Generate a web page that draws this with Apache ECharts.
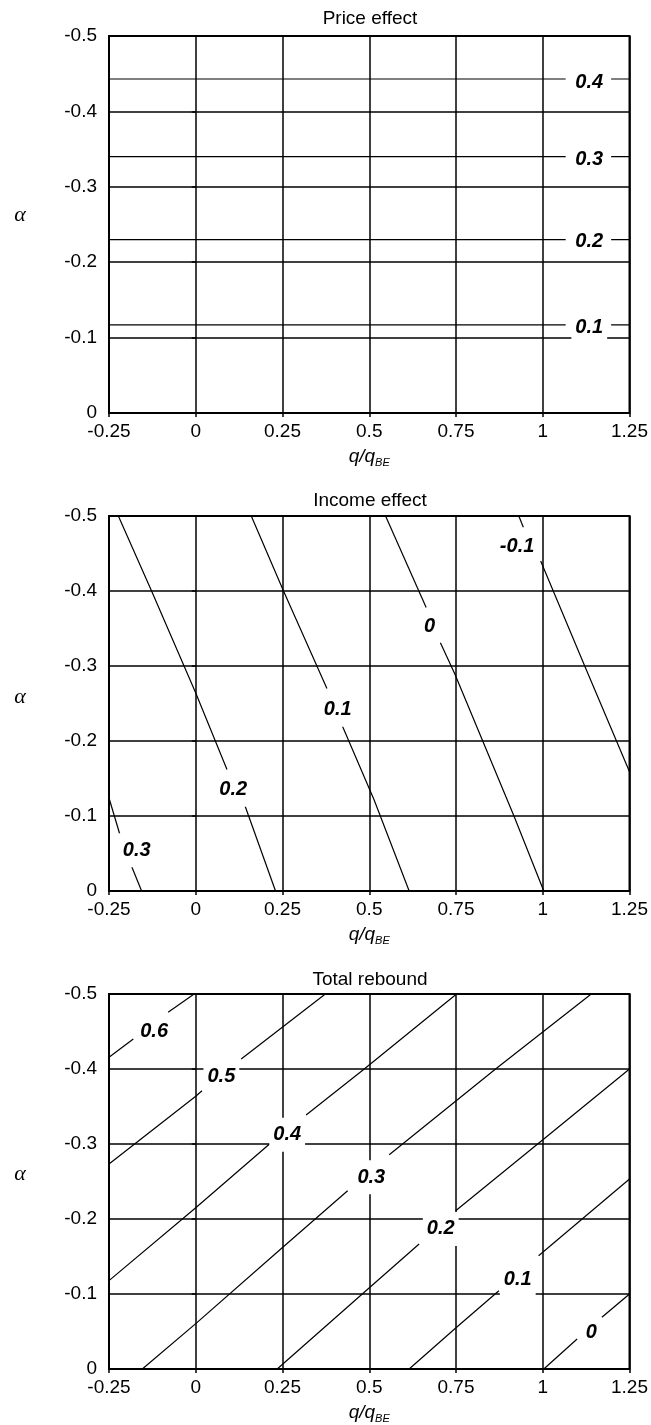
<!DOCTYPE html>
<html>
<head>
<meta charset="utf-8">
<script src="https://cdn.jsdelivr.net/npm/echarts@6/dist/echarts.min.js"></script>
<style>
html,body{margin:0;padding:0;background:#fff;}
#main{width:651px;height:1425px;}
</style>
</head>
<body>
<div id="main"></div>
<script>
// ---------- DATA ----------
const panelTitles = ['Price effect', 'Income effect', 'Total rebound'];

// Price effect: horizontal contour lines (alpha value), with a gap where the label sits
const priceLevels = ['0.1', '0.2', '0.3', '0.4'];
const priceAlpha = [-0.117, -0.230, -0.340, -0.443];
const priceGapX = [1.066, 1.197];
const priceLabelX = [1.134, 1.134, 1.134, 1.134];
const priceLabelAlpha = [-0.114, -0.227, -0.336, -0.439];

// Income effect contours: [q/qBE, alpha] before and after the label gap
const incomeLevels = ['0.3', '0.2', '0.1', '0', '-0.1'];
const incomeBefore = [
  [[-0.25, -0.124], [-0.218, -0.0743]],
  [[-0.223, -0.5], [-0.1273, -0.4], [0.0, -0.264], [0.090, -0.162]],
  [[0.160, -0.5], [0.2529, -0.4], [0.378, -0.270]],
  [[0.547, -0.5], [0.664, -0.378]],
  [[0.931, -0.5], [0.944, -0.485]]
];
const incomeAfter = [
  [[-0.185, -0.033], [-0.156, 0]],
  [[0.131, -0.1276], [0.2299, 0]],
  [[0.4216, -0.221], [0.5144, -0.121], [0.615, 0]],
  [[0.705, -0.331], [0.746, -0.290], [0.917, -0.100], [1.003, 0]],
  [[0.994, -0.440], [1.120, -0.301], [1.250, -0.159]]
];
const incomeLabelX = [-0.170, 0.108, 0.409, 0.674, 0.926];
const incomeLabelAlpha = [-0.0543, -0.135, -0.2418, -0.353, -0.459];

// Total rebound contours
const totalLevels = ['0.6', '0.5', '0.4', '0.3', '0.2', '0.1', '0'];
const totalBefore = [
  [[-0.25, -0.4156], [-0.180, -0.440]],
  [[-0.25, -0.2733], [0.0, -0.3636], [0.018, -0.371]],
  [[-0.25, -0.1178], [0.0, -0.215], [0.2126, -0.300]],
  [[-0.154, 0], [0.0, -0.0605], [0.25, -0.162], [0.4377, -0.2377]],
  [[0.2347, 0], [0.497, -0.107], [0.6437, -0.1667]],
  [[0.615, 0], [0.75, -0.055], [0.8736, -0.1044]],
  [[1.003, 0], [1.099, -0.040]]
];
const totalAfter = [
  [[-0.0796, -0.4756], [-0.0077, -0.499]],
  [[0.131, -0.4133], [0.3707, -0.499]],
  [[0.318, -0.3387], [0.4856, -0.4], [0.749, -0.499]],
  [[0.5575, -0.2857], [0.864, -0.4], [1.137, -0.499]],
  [[0.749, -0.211], [1.003, -0.3067], [1.25, -0.40]],
  [[0.988, -0.151], [1.25, -0.2533]],
  [[1.1704, -0.0689], [1.25, -0.100]]
];
const totalLabelX = [-0.120, 0.0738, 0.2635, 0.506, 0.706, 0.928, 1.140];
const totalLabelAlpha = [-0.4497, -0.3903, -0.3124, -0.2556, -0.1867, -0.120, -0.0489];

// Axis ticks
const xMin = -0.25, xMax = 1.25, xStep = 0.25;
const yMin = -0.5, yMax = 0, yStep = 0.1;

// ---------- CHART ----------
const FONT = '"Liberation Sans", Arial, sans-serif';
const chart = echarts.init(document.getElementById('main'), null, {renderer: 'canvas'});

const grids = [
  {left: 109, width: 522, top: 36, height: 377},
  {left: 109, width: 522, top: 516, height: 375},
  {left: 109, width: 522, top: 994, height: 377}
];

const xAxes = grids.map((g, i) => ({
  gridIndex: i, type: 'value', min: xMin, max: xMax, interval: xStep,
  axisLine: {show: false},
  axisTick: {show: true, inside: false, length: 4, lineStyle: {color: '#000', width: 1.5}},
  axisLabel: {fontSize: 19, color: '#000', fontFamily: FONT, margin: 9, showMinLabel: true, showMaxLabel: true},
  splitLine: {show: true, lineStyle: {color: '#000', width: 1.5}},
  name: '{q|q/q}{s|BE}',
  nameLocation: 'middle', nameGap: 33,
  nameTextStyle: {
    rich: {
      q: {fontSize: 19, fontStyle: 'italic', fontFamily: FONT, color: '#000', lineHeight: 22},
      s: {fontSize: 11, fontStyle: 'italic', fontFamily: FONT, color: '#000', verticalAlign: 'bottom', lineHeight: 12}
    }
  }
}));

const yAxes = grids.map((g, i) => ({
  gridIndex: i, type: 'value', min: yMin, max: yMax, interval: yStep, inverse: true,
  axisLine: {show: false},
  axisTick: {show: true, inside: false, length: 4, lineStyle: {color: '#000', width: 1.5}},
  axisLabel: {fontSize: 19, color: '#000', fontFamily: FONT, margin: 12, showMinLabel: true, showMaxLabel: true},
  splitLine: {show: true, lineStyle: {color: '#000', width: 1.5}}
}));

const lineStyle = {color: '#000', width: 1.2};
function lineSeries(data, i) {
  return {
    type: 'line', xAxisIndex: i, yAxisIndex: i, data: data,
    showSymbol: false, symbol: 'none', silent: true, animation: false,
    lineStyle: lineStyle, z: 3
  };
}
const labelStyle = {
  show: true, position: 'inside', formatter: p => p.name,
  fontSize: 20, fontWeight: 'bold', fontStyle: 'italic', fontFamily: FONT, color: '#000',
  backgroundColor: '#fff', padding: [7, 4], opacity: 1
};
function labelSeries(xs, ys, names, i) {
  return {
    type: 'scatter', xAxisIndex: i, yAxisIndex: i, symbolSize: 0, silent: true, animation: false,
    itemStyle: {opacity: 1, color: '#fff'},
    data: xs.map((x, k) => ({name: names[k], value: [x, ys[k]]})),
    label: labelStyle, z: 5
  };
}

const series = [];
// Price effect
priceAlpha.forEach(a => {
  series.push(lineSeries([[xMin, a], [priceGapX[0], a]], 0));
  series.push(lineSeries([[priceGapX[1], a], [xMax, a]], 0));
});
series.push(labelSeries(priceLabelX, priceLabelAlpha, priceLevels, 0));
// Income effect
incomeBefore.forEach(d => series.push(lineSeries(d, 1)));
incomeAfter.forEach(d => series.push(lineSeries(d, 1)));
series.push(labelSeries(incomeLabelX, incomeLabelAlpha, incomeLevels, 1));
// Total rebound
totalBefore.forEach(d => series.push(lineSeries(d, 2)));
totalAfter.forEach(d => series.push(lineSeries(d, 2)));
series.push(labelSeries(totalLabelX, totalLabelAlpha, totalLevels, 2));

const titleY = [18.5, 500.5, 979.5];
const alphaY = [215.5, 697, 1174.5];
const graphics = [];
panelTitles.forEach((t, i) => {
  graphics.push({type: 'text', x: 370, y: titleY[i], silent: true,
    style: {text: t, font: '19px ' + FONT, fill: '#000', align: 'center', verticalAlign: 'middle', textAlign: 'center', textVerticalAlign: 'middle'}});
  graphics.push({type: 'text', x: 20, y: alphaY[i], silent: true,
    style: {text: 'α', font: 'italic 22px "Liberation Serif", "DejaVu Serif", serif', fill: '#000', align: 'center', verticalAlign: 'middle', textAlign: 'center', textVerticalAlign: 'middle'}});
});

chart.setOption({
  animation: false,
  backgroundColor: '#fff',
  grid: grids.map(g => Object.assign({show: true, borderColor: '#000', borderWidth: 2, backgroundColor: 'transparent', containLabel: false}, g)),
  xAxis: xAxes,
  yAxis: yAxes,
  series: series,
  graphic: graphics
});
</script>
</body>
</html>
